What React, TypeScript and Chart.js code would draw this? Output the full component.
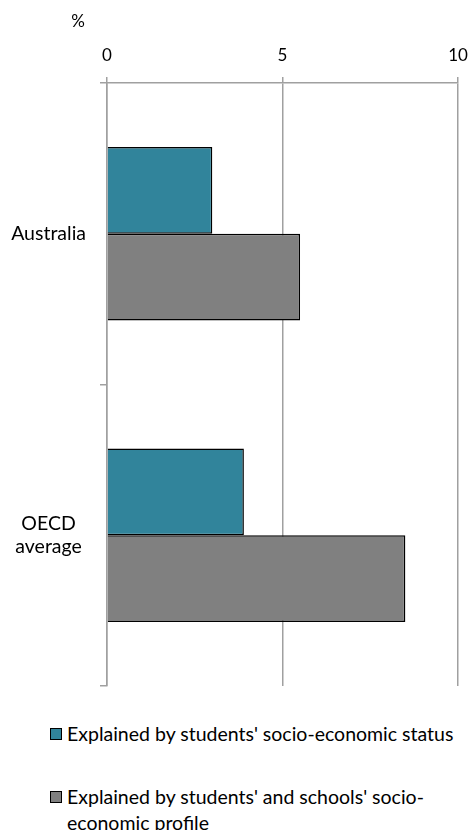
import React, { useEffect, useRef } from "react";
import { Chart, registerables } from "chart.js";

Chart.register(...registerables);

const categories: (string | string[])[] = ["Australia", ["OECD", "average"]];
const seriesLabels = [
  "Explained by students' socio-economic status",
  "Explained by students' and schools' socio-economic profile",
];
const studentsSES = [3.0, 3.9];
const studentsSchoolsSES = [5.5, 8.5];
const colors = ["#31849B", "#808080"];
const xMin = 0;
const xMax = 10;
const xStep = 5;
const unitLabel = "%";

const FONT = "Lato, 'Open Sans', sans-serif";
const W = 470;
const H = 700;

const unitPlugin = {
  id: "unitLabel",
  afterDraw(chart: any) {
    const { ctx, chartArea } = chart;
    ctx.save();
    ctx.font = `17px ${FONT}`;
    ctx.fillStyle = "#000";
    ctx.textAlign = "center";
    ctx.textBaseline = "middle";
    ctx.fillText(unitLabel, chartArea.left - 29, 22);
    ctx.restore();
  },
};

export default function App() {
  const ref = useRef<HTMLCanvasElement | null>(null);

  useEffect(() => {
    if (!ref.current) return;
    const chart = new Chart(ref.current, {
      type: "bar",
      data: {
        labels: categories,
        datasets: [
          {
            label: seriesLabels[0],
            data: studentsSES,
            backgroundColor: colors[0],
            borderColor: "#000",
            borderWidth: 1.5,
            categoryPercentage: 0.575,
            barPercentage: 1,
          },
          {
            label: seriesLabels[1],
            data: studentsSchoolsSES,
            backgroundColor: colors[1],
            borderColor: "#000",
            borderWidth: 1.5,
            categoryPercentage: 0.575,
            barPercentage: 1,
          },
        ],
      },
      options: {
        indexAxis: "y",
        animation: false,
        responsive: false,
        maintainAspectRatio: false,
        devicePixelRatio: 1,
        layout: { padding: { top: 0, left: 0, right: 12, bottom: 14 } },
        plugins: {
          legend: { display: false },
          tooltip: { enabled: false },
        },
        scales: {
          x: {
            position: "top",
            min: xMin,
            max: xMax,
            ticks: {
              stepSize: xStep,
              color: "#000",
              font: { family: FONT, size: 17 },
              padding: 11,
            },
            grid: {
              color: "#a0a0a0",
              lineWidth: 1.5,
              tickLength: 6,
            },
            border: { color: "#a0a0a0", width: 1.5 },
            afterFit(scale: any) {
              scale.height = 83;
              scale.paddingLeft = 0;
              scale.paddingRight = 0;
            },
          },
          y: {
            ticks: {
              color: "#000",
              font: { family: FONT, size: 19.5 },
              padding: 14,
              crossAlign: "center",
            },
            grid: {
              drawOnChartArea: false,
              color: "#a0a0a0",
              lineWidth: 1.5,
              tickLength: 7,
              offset: true,
            },
            border: { color: "#a0a0a0", width: 1.5 },
            afterFit(scale: any) {
              scale.width = 107;
              scale.paddingTop = 0;
              scale.paddingBottom = 0;
            },
          },
        },
      },
      plugins: [unitPlugin],
    });
    return () => chart.destroy();
  }, []);

  const box = (c: string): React.CSSProperties => ({
    position: "absolute",
    left: 0,
    top: 0,
    width: 10,
    height: 10,
    background: c,
    border: "1.5px solid #000",
  });

  const textStyle: React.CSSProperties = {
    position: "absolute",
    left: 17,
    top: 0,
    width: 396,
    fontSize: 19.5,
    lineHeight: "26px",
    whiteSpace: "normal",
  };

  return (
    <div
      style={{
        position: "absolute",
        left: 0,
        top: 0,
        width: W,
        height: 830,
        overflow: "hidden",
        background: "#fff",
        fontFamily: FONT,
        color: "#000",
      }}
    >
      <canvas
        ref={ref}
        width={W}
        height={H}
        style={{ position: "absolute", left: 0, top: 0, width: W, height: H }}
      />
      <div style={{ position: "absolute", left: 50, top: 721, width: 420 }}>
        <div style={{ position: "absolute", left: 0, top: 7 }}>
          <div style={box(colors[0])} />
        </div>
        <div style={textStyle}>{seriesLabels[0]}</div>
      </div>
      <div style={{ position: "absolute", left: 50, top: 784, width: 420 }}>
        <div style={{ position: "absolute", left: 0, top: 7 }}>
          <div style={box(colors[1])} />
        </div>
        <div style={textStyle}>{seriesLabels[1]}</div>
      </div>
    </div>
  );
}
